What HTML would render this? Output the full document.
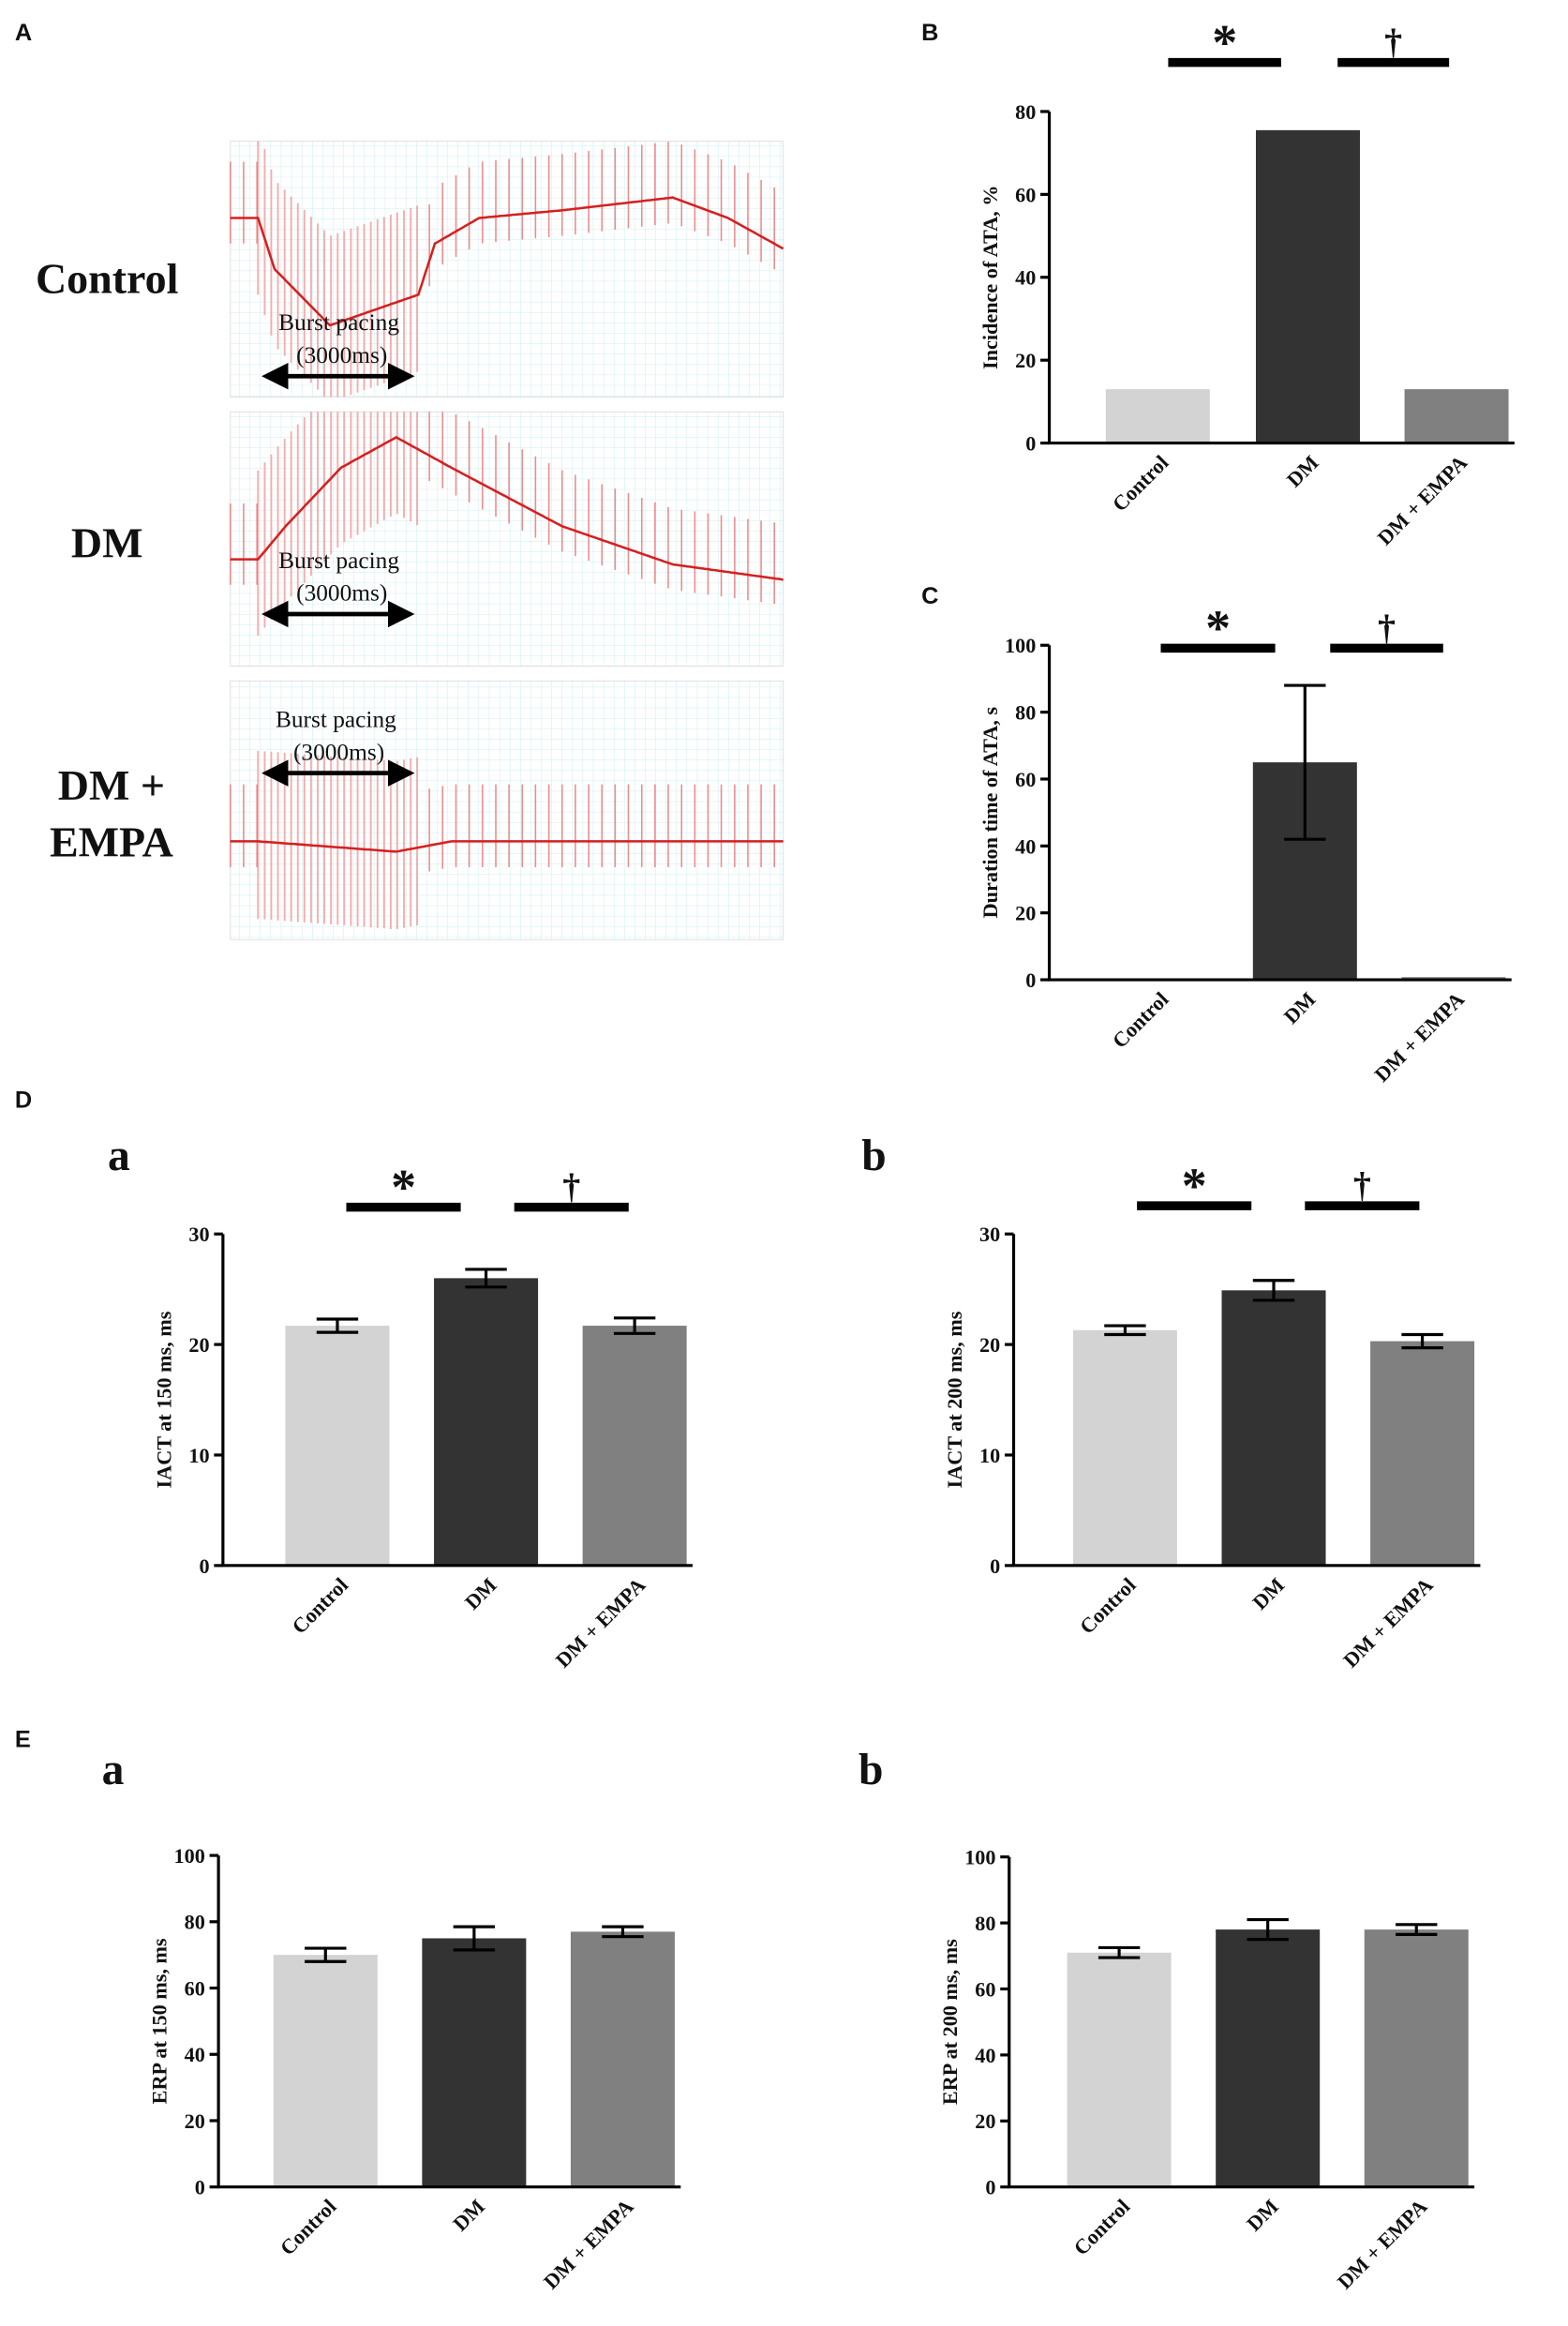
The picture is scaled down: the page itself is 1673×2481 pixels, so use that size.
<!DOCTYPE html>
<html><head><meta charset="utf-8">
<style>
html,body{margin:0;padding:0;background:#fff;}
svg{display:block;}
text{font-family:"Liberation Serif",serif;font-weight:bold;fill:#111;}
.pl{font-family:"Liberation Sans",sans-serif;font-size:16px;}
</style></head>
<body>
<svg id="fig" width="1673" height="2481" viewBox="0 0 1055 1564.5" xmlns="http://www.w3.org/2000/svg">
<defs>
<pattern id="grid" width="7" height="7" patternUnits="userSpaceOnUse"><path d="M7 0H0V7" fill="none" stroke="#c9eef2" stroke-width="0.6"/></pattern>
<marker id="ah" markerWidth="6" markerHeight="6" refX="5" refY="3" orient="auto-start-reverse"><path d="M0,0 L6,3 L0,6 z" fill="#000"/></marker>
</defs>
<text class="pl" x="10" y="27">A</text>
<text class="pl" x="620" y="27">B</text>
<text class="pl" x="620" y="406">C</text>
<text class="pl" x="10" y="745">D</text>
<text class="pl" x="10" y="1175">E</text>
<text x="80" y="787" font-size="30" text-anchor="middle">a</text>
<text x="588" y="787" font-size="30" text-anchor="middle">b</text>
<text x="76" y="1200" font-size="30" text-anchor="middle">a</text>
<text x="586" y="1200" font-size="30" text-anchor="middle">b</text>
<text x="72" y="197" font-size="29" text-anchor="middle">Control</text>
<text x="72" y="375" font-size="29" text-anchor="middle">DM</text>
<text x="75" y="538" font-size="29" text-anchor="middle">DM +</text>
<text x="75" y="576" font-size="29" text-anchor="middle">EMPA</text>
<g id="traces"></g>
<g id="charts"></g>
</svg>
<script>
const NS="http://www.w3.org/2000/svg";
const svg=document.getElementById('fig');
function mk(tag,attrs,parent){const e=document.createElementNS(NS,tag);for(const k in attrs)e.setAttribute(k,attrs[k]);(parent||svg).appendChild(e);return e;}

const tracePanels=[[155,95,372,172],[155,277,372,171],[155,458,372,174]];
const ctlBase=[[0,0.3],[0.05,0.3],[0.08,0.5],[0.18,0.72],[0.34,0.6],[0.37,0.4],[0.45,0.3],[0.6,0.27],[0.8,0.22],[0.9,0.3],[1,0.42]];
const dmBase=[[0,0.58],[0.05,0.58],[0.1,0.45],[0.2,0.22],[0.3,0.1],[0.4,0.22],[0.6,0.45],[0.8,0.6],[1,0.66]];
const emBase=[[0,0.62],[0.05,0.62],[0.3,0.66],[0.4,0.62],[1,0.62]];
const bases=[ctlBase,dmBase,emBase];
const burst=[[0.05,0.34],[0.05,0.34],[0.05,0.34]];
const tg=document.getElementById('traces');
function interp(b,f){for(let i=1;i<b.length;i++){if(f<=b[i][0]){const t=(f-b[i-1][0])/(b[i][0]-b[i-1][0]||1);return b[i-1][1]+t*(b[i][1]-b[i-1][1]);}}return b[b.length-1][1];}
tracePanels.forEach((p,k)=>{
 const [x,y,w,h]=p;
 const r=mk('rect',{x:x,y:y,width:w,height:h,fill:'url(#grid)',stroke:'#ddd','stroke-width':0.6},tg);
 
 
 let d='';
 for(let i=0;i<=300;i++){const f=i/300;d+=(i?'L':'M')+(x+f*w).toFixed(1)+','+(y+interp(bases[k],f)*h).toFixed(1);}
 let s='', sb='';
 const [b0,b1]=burst[k];
 for(let f=b0;f<=b1;f+=0.012){
   const by=y+interp(bases[k],f)*h;
   sb+='M'+(x+f*w).toFixed(1)+','+Math.max(y,by-h*0.35).toFixed(1)+'V'+Math.min(y+h,by+h*0.3).toFixed(1);
 }
 for(let f=0;f<=1;f+=0.024){
   if(f>=b0&&f<=b1) continue;
   const by=y+interp(bases[k],f)*h;
   s+='M'+(x+f*w).toFixed(1)+','+Math.max(y,by-h*0.22).toFixed(1)+'V'+Math.min(y+h,by+h*0.1).toFixed(1);
 }
 const spb=mk('path',{d:sb,fill:'none',stroke:'#f09a9a','stroke-width':1.2,opacity:0.8},tg);
 
 
 const sp=mk('path',{d:s,fill:'none',stroke:'#e87070','stroke-width':1,opacity:0.8},tg);
 
 
 const base=mk('path',{d:d,fill:'none',stroke:'#d42020','stroke-width':1.6},tg);
 
 
});
const bpPos=[[228,222,175,280,253],[228,382,175,280,413],[226,489,175,280,520]];
bpPos.forEach((b,k)=>{
 const t1=mk('text',{x:b[0],y:b[1],'font-size':16,'text-anchor':'middle'},tg);t1.textContent='Burst pacing';t1.style.fontWeight='normal';
 
 
 const t2=mk('text',{x:b[0]+2,y:b[1]+22,'font-size':16,'text-anchor':'middle'},tg);t2.textContent='(3000ms)';t2.style.fontWeight='normal';
 
 
 const a=mk('line',{x1:b[2]+4,y1:b[4],x2:b[3]-4,y2:b[4],stroke:'#000','stroke-width':3,'marker-start':'url(#ah)','marker-end':'url(#ah)'},tg);
 
 
});

const groups=["Control","DM","DM + EMPA"];
const colors=["#d3d3d3","#333333","#808080"];
const bVals=[13,75.5,13];          const bErr=[0,0,0];
const cVals=[0,65,0.8];            const cErr=[0,23,0];
const daVals=[21.7,26.0,21.7];     const daErr=[0.6,0.8,0.7];
const dbVals=[21.3,24.9,20.3];     const dbErr=[0.4,0.9,0.6];
const eaVals=[70,75,77];           const eaErr=[2,3.5,1.5];
const ebVals=[71,78,78];           const ebErr=[1.5,3,1.5];
const ticks80=[0,20,40,60,80];
const ticks100=[0,20,40,60,80,100];
const ticks30=[0,10,20,30];

const charts=[
 {id:'b',ax:706,top:75,bot:298,max:80,ticks:ticks80,vals:bVals,err:bErr,bx:[744,845,945],bw:70,title:'Incidence of ATA, %',sig:[[786,862],[900,975]],sy:42},
 {id:'c',ax:706,top:434,bot:659,max:100,ticks:ticks100,vals:cVals,err:cErr,bx:[744,843,943],bw:70,title:'Duration time of ATA, s',sig:[[781,858],[895,971]],sy:436},
 {id:'da',ax:150,top:830,bot:1053,max:30,ticks:ticks30,vals:daVals,err:daErr,bx:[192,292,392],bw:70,title:'IACT at 150 ms, ms',sig:[[233,310],[346,423]],sy:812},
 {id:'db',ax:682,top:830,bot:1053,max:30,ticks:ticks30,vals:dbVals,err:dbErr,bx:[722,822,922],bw:70,title:'IACT at 200 ms, ms',sig:[[765,842],[878,955]],sy:811},
 {id:'ea',ax:147,top:1248,bot:1471,max:100,ticks:ticks100,vals:eaVals,err:eaErr,bx:[184,284,384],bw:70,title:'ERP at 150 ms, ms',sig:null},
 {id:'eb',ax:679,top:1249,bot:1471,max:100,ticks:ticks100,vals:ebVals,err:ebErr,bx:[718,818,918],bw:70,title:'ERP at 200 ms, ms',sig:null}
];
const cg=document.getElementById('charts');
charts.forEach(c=>{
 const g=mk('g',{},cg);
 
 
 const yS=v=>c.bot-(v/c.max)*(c.bot-c.top);
 c.vals.forEach((v,i)=>{
  const x=c.bx[i], y=yS(v);
  const r=mk('rect',{x:x,y:y,width:c.bw,height:c.bot-y,fill:colors[i]},g);
  
  
  if(c.err[i]>0){
   const cx=x+c.bw/2, y1=yS(v+c.err[i]), y2=yS(v-c.err[i]);
   const e=mk('path',{d:`M${cx-14},${y1}H${cx+14}M${cx},${y1}V${y2}M${cx-14},${y2}H${cx+14}`,stroke:'#000','stroke-width':2,fill:'none'},g);
   
   
  }
  const lx=x+c.bw/2+8, ly=c.bot+14;
  const t=mk('text',{x:lx,y:ly,'font-size':14,'text-anchor':'end',transform:`rotate(-45 ${lx} ${ly})`},g);
  t.textContent=groups[i];
  
  
 });
 const ax=mk('path',{d:`M${c.ax},${c.top}V${c.bot}H${c.bx[2]+c.bw+4}`,stroke:'#000','stroke-width':2,fill:'none'},g);
 
 
 c.ticks.forEach(tv=>{
  const y=yS(tv);
  const tk=mk('line',{x1:c.ax-6,y1:y,x2:c.ax,y2:y,stroke:'#000','stroke-width':2},g);
  
  
  const tl=mk('text',{x:c.ax-9,y:y+5,'font-size':14,'text-anchor':'end'},g);
  tl.textContent=tv;
  
  
 });
 const mx=c.ax-35, my=(c.top+c.bot)/2;
 const yt=mk('text',{x:mx,y:my,'font-size':14,'text-anchor':'middle',transform:`rotate(-90 ${mx} ${my})`},g);
 yt.textContent=c.title;
 
 
 if(c.sig){
  c.sig.forEach((s,j)=>{
   const l=mk('line',{x1:s[0],y1:c.sy,x2:s[1],y2:c.sy,stroke:'#000','stroke-width':6},g);
   
   
   const m=mk('text',{x:(s[0]+s[1])/2,y:c.sy-(j?6:2),'font-size':j?24:34,'text-anchor':'middle'},g);
   m.textContent=j?'†':'*';
   
   
  });
 }
});
</script>
</body></html>
